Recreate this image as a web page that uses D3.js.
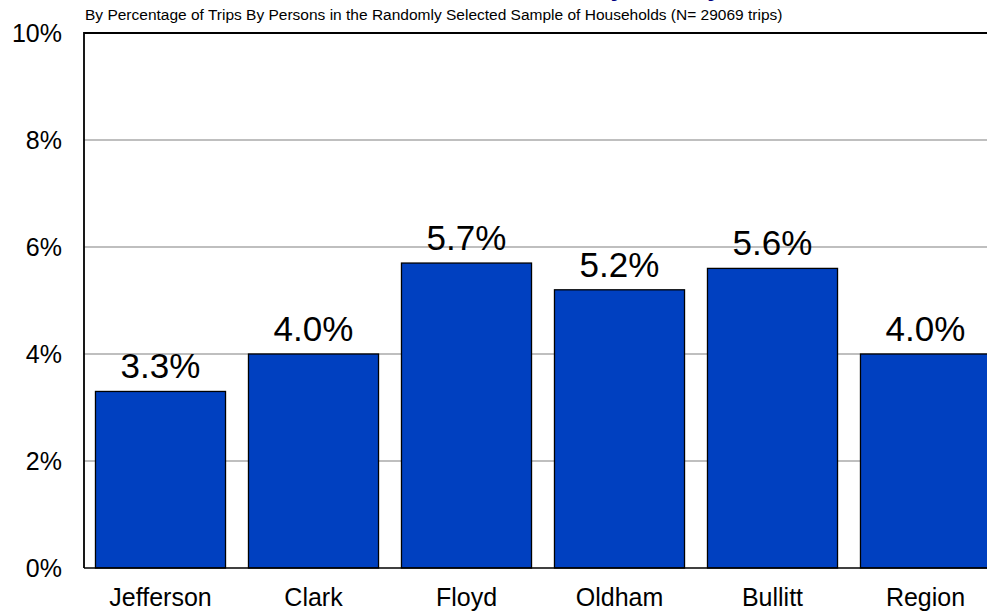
<!DOCTYPE html>
<html><head><meta charset="utf-8">
<script src="https://cdn.jsdelivr.net/npm/d3@7"></script>
<style>body{margin:0;background:#fff}svg{display:block;font-family:"Liberation Sans",Arial,sans-serif}</style>
</head><body>
<svg id="c" width="987" height="614"></svg>
<script>
const categories = ["Jefferson","Clark","Floyd","Oldham","Bullitt","Region"];
const values = [3.3, 4.0, 5.7, 5.2, 5.6, 4.0];
const yTicks = [0,2,4,6,8,10];
const subtitle = "By Percentage of Trips By Persons in the Randomly Selected Sample of Households (N= 29069 trips)";
const title = "Walk Share by County";

(function(){
const svg = d3.select("#c");
const mL = 84, mT = 33, mB = 568, mR = 1002;
const x = d3.scaleBand().domain(categories).range([mL, mR]).paddingInner(0.15).paddingOuter(0.075);
const y = d3.scaleLinear().domain([0,10]).range([mB, mT]);

// title (cut off above the view in the reference)
svg.append("text").attr("x", 585).attr("y", -4).attr("text-anchor","middle")
  .attr("font-size", 26).attr("font-weight","bold").attr("fill","#000080").text(title);

svg.append("text").attr("x", 85).attr("y", 20).attr("font-size", 15.5).attr("fill","#000").text(subtitle);

// gridlines
svg.append("g").selectAll("line").data(yTicks.filter(d => d>0 && d<10)).join("line")
  .attr("x1", mL).attr("x2", mR).attr("y1", d => y(d)).attr("y2", d => y(d))
  .attr("stroke", "#808080").attr("stroke-width", 1.2);

// bars
svg.append("g").selectAll("rect").data(values).join("rect")
  .attr("x", (d,i) => x(categories[i])).attr("width", x.bandwidth())
  .attr("y", d => y(d)).attr("height", d => y(0) - y(d))
  .attr("fill", "#0040C0").attr("stroke", "#000").attr("stroke-width", 1.3);

// frame
svg.append("path").attr("d", `M${mL},${mB}V${mT}H${mR}`).attr("fill","none").attr("stroke","#000").attr("stroke-width",1.8);
svg.append("line").attr("x1", mL).attr("x2", mR).attr("y1", mB).attr("y2", mB).attr("stroke","#000").attr("stroke-width",1.5);

// value labels
svg.append("g").selectAll("text").data(values).join("text")
  .attr("x", (d,i) => x(categories[i]) + x.bandwidth()/2).attr("y", d => y(d) - 13)
  .attr("text-anchor","middle").attr("font-size", 35).attr("fill","#000")
  .text(d => d.toFixed(1) + "%");

// y axis labels
const yAxis = d3.axisLeft(y).tickValues(yTicks).tickSize(0).tickPadding(22).tickFormat(d => d + "%");
const ga = svg.append("g").attr("transform", `translate(${mL},0)`).call(yAxis);
ga.select(".domain").remove();
ga.selectAll("text").attr("font-size", 25).attr("font-family", "Liberation Sans, Arial, sans-serif").attr("fill","#000");

// x axis labels
const xAxis = d3.axisBottom(x).tickSize(0).tickPadding(20);
const gx = svg.append("g").attr("transform", `translate(0,${mB})`).call(xAxis);
gx.select(".domain").remove();
gx.selectAll("text").attr("font-size", 25).attr("font-family", "Liberation Sans, Arial, sans-serif").attr("fill","#000");
})();
</script>
</body></html>
